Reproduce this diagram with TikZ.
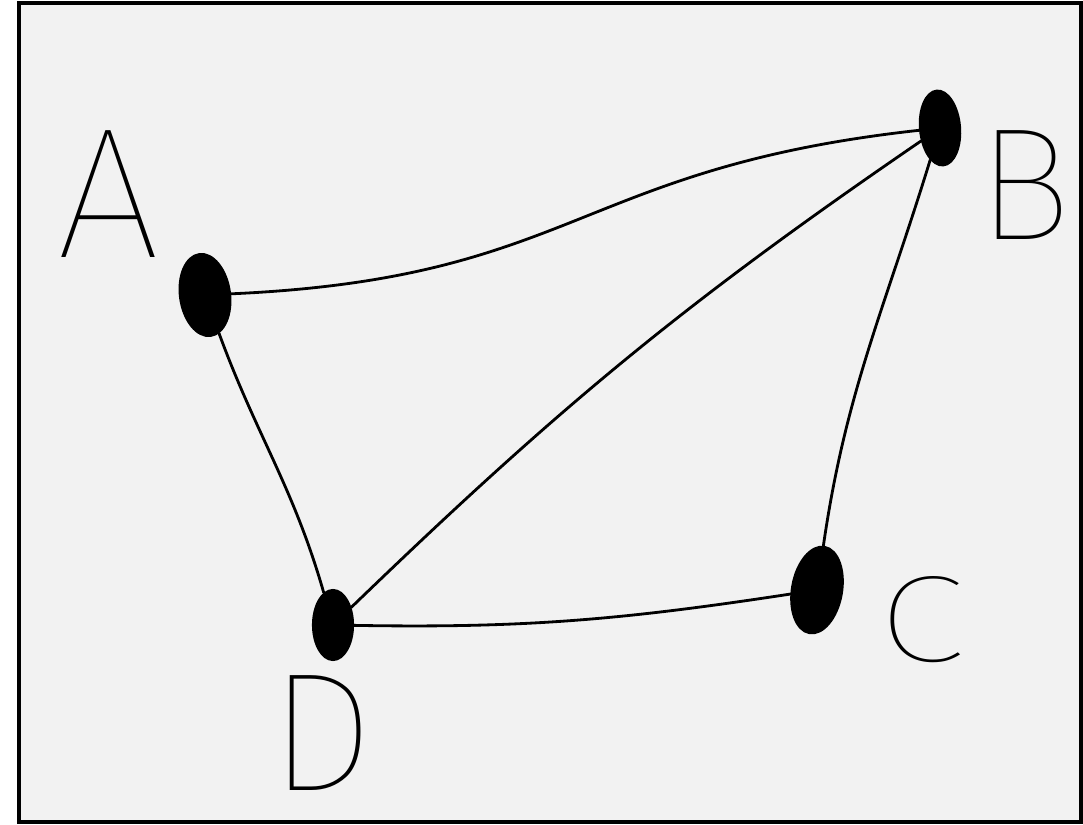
\documentclass[tikz,border=0pt]{standalone}
\usepackage{fontspec}
\newfontfamily\handfont{Fira Sans Thin}
\usepackage{xcolor}
\definecolor{boardGrey}{HTML}{F2F2F2}
\definecolor{inkBlack}{HTML}{000000}
\usepackage{tikz}
\usetikzlibrary{positioning,shapes.geometric,calc}

\begin{document}
\begin{tikzpicture}[
      blob/.style={ellipse,draw=inkBlack,fill=inkBlack,line width=1.2pt,
                   inner sep=0pt},
      lbl/.style={inkBlack,inner sep=0pt,font=\handfont},
      edge/.style={inkBlack,line width=1.6pt,line cap=round},
      frame/.style={draw=inkBlack,fill=boardGrey,line width=2.3pt},
    ]

    % --- Page and board ---
    \useasboundingbox (0,0) rectangle (21.66,16.48);
    \draw[frame] (0.38,0.04) rectangle (21.62,16.42);

    % --- Vertices ---
    \node[blob,minimum width=10mm,minimum height=16.5mm,rotate=8] (A) at (4.10,10.58) {};
    \node[blob,minimum width=8mm,minimum height=15mm,rotate=5] (B) at (18.80,13.92) {};
    \node[blob,minimum width=10mm,minimum height=17.5mm,rotate=-10] (C) at (16.34,4.68) {};
    \node[blob,minimum width=8mm,minimum height=14mm] (D) at (6.66,3.98) {};

    % --- Vertex names ---
    \node[lbl,font=\handfont\fontsize{106}{106}\selectfont] (nameA) at (2.16,12.60) {A};
    \node[lbl,font=\handfont\fontsize{91}{91}\selectfont] (nameB) at (20.48,12.78) {B};
    \node[lbl,font=\handfont\fontsize{70}{70}\selectfont,xscale=1.3] (nameC) at (18.44,4.08) {C};
    \node[lbl,font=\handfont\fontsize{96}{96}\selectfont] (nameD) at (6.44,1.82) {D};

    % --- Edges ---
    \draw[edge] (A) to[out=2,in=186,looseness=1.25] (B);
    \draw[edge] (A) to[out=-72,in=106] (D);
    \draw[edge] (B) to[out=-146,in=44] (D);
    \draw[edge] (B) to[out=-108,in=84] (C);
    \draw[edge] (D) to[out=-1,in=190] (C);

  \end{tikzpicture}
\end{document}
